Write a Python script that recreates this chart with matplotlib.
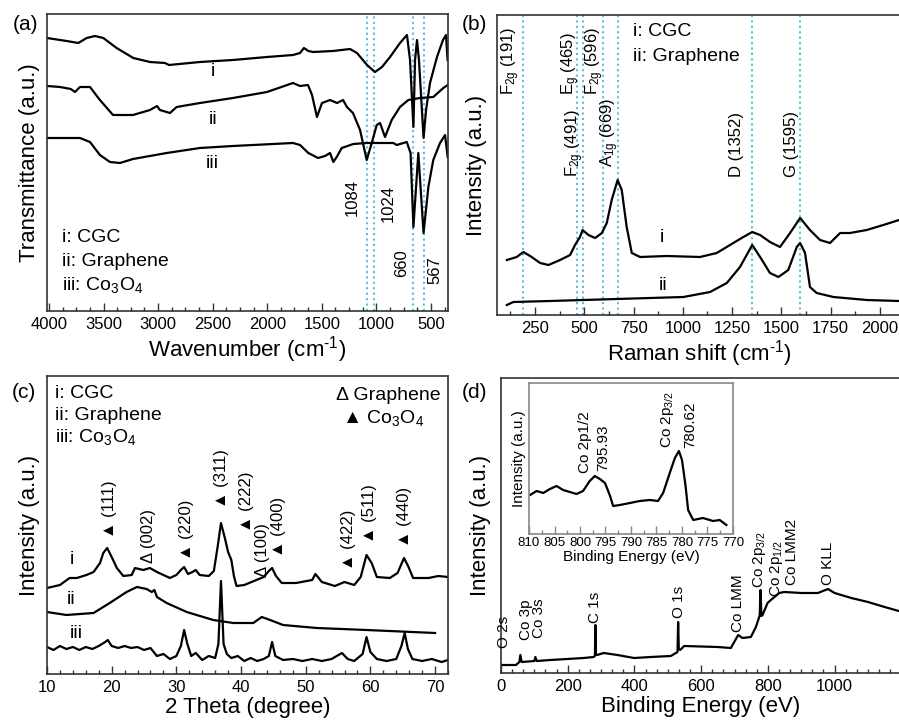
import matplotlib
matplotlib.use('Agg')
import matplotlib.pyplot as plt
from matplotlib.ticker import MultipleLocator

plt.rcParams['font.family'] = ['Liberation Sans', 'DejaVu Sans']
plt.rcParams['mathtext.fontset'] = 'custom'
plt.rcParams['mathtext.rm'] = 'Liberation Sans'
plt.rcParams['mathtext.it'] = 'Liberation Sans:italic'
plt.rcParams['mathtext.bf'] = 'Liberation Sans:bold'

# ---- (a) FTIR (wavenumber, arbitrary transmittance)
ftir_i_x = [4018, 3838, 3731, 3654, 3578, 3502, 3380, 3227, 3074, 2937, 2900, 2616, 2314, 2002, 1764,
            1699, 1663, 1623, 1580, 1397, 1241, 1177, 1085, 1012, 948, 874, 783, 719, 691, 660, 645,
            627, 609, 567, 544, 508, 444, 389, 361, 347]
ftir_i_y = [273, 270, 268, 273, 275, 273, 263, 253, 249, 248, 246, 249, 251, 254, 256,
            258, 263, 260, 259, 260, 262, 258, 246, 239, 244, 254, 268, 276, 251, 184, 251,
            271, 251, 173, 201, 228, 254, 271, 276, 251]
ftir_ii_x = [4018, 3899, 3800, 3762, 3716, 3624, 3533, 3413, 3230, 3074, 3010, 2983, 2891, 2830, 2616,
             2314, 2002, 1764, 1699, 1626, 1589, 1544, 1498, 1424, 1360, 1305, 1269, 1214, 1149, 1088,
             1042, 996, 966, 920, 859, 783, 707, 600, 478, 386, 346]
ftir_ii_y = [225, 224, 222, 219, 224, 224, 211, 196, 196, 201, 205, 201, 198, 204, 208,
             213, 219, 228, 225, 226, 216, 194, 208, 211, 208, 211, 204, 198, 181, 151,
             168, 186, 188, 174, 191, 204, 211, 213, 214, 223, 226]
ftir_iii_x = [4018, 3716, 3624, 3533, 3441, 3349, 3230, 2921, 2616, 2314, 1764, 1699, 1623, 1534, 1470,
              1424, 1394, 1363, 1317, 1211, 1088, 844, 813, 721, 686, 660, 615, 567, 523, 478,
              416, 370, 346]
ftir_iii_y = [173, 173, 169, 156, 149, 148, 152, 158, 163, 165, 168, 166, 158, 153, 155,
              158, 149, 154, 163, 167, 168, 168, 166, 169, 158, 84, 158, 78, 124, 151,
              168, 176, 154]
ftir_marks = [1084, 1024, 660, 567]

# ---- (b) Raman
raman_i_x = [107, 157, 191, 233, 276, 318, 377, 428, 453, 478, 491, 521, 555, 589, 614, 639, 669, 690,
             715, 741, 783, 918, 1087, 1172, 1256, 1307, 1352, 1392, 1442, 1493, 1544, 1595, 1645,
             1696, 1747, 1798, 1848, 1933, 2017, 2097]
raman_i_y = [55, 58, 63, 58, 52, 50, 55, 60, 70, 78, 85, 80, 77, 82, 92, 115, 135, 125,
             88, 62, 58, 59, 58, 62, 72, 78, 83, 80, 73, 68, 82, 97, 85,
             75, 72, 82, 82, 85, 90, 95]
raman_ii_x = [107, 140, 326, 665, 1003, 1138, 1223, 1290, 1352, 1392, 1442, 1485, 1535, 1578, 1595,
              1620, 1645, 1679, 1764, 1933, 2097]
raman_ii_y = [10, 13, 14, 16, 18, 23, 32, 48, 70, 58, 42, 38, 45, 68, 72,
              62, 28, 22, 18, 15, 14]
raman_marks = [191, 465, 491, 596, 669, 1352, 1595]

# ---- (c) XRD
xrd_i_x = [10, 12.0, 13.5, 14.6, 16.1, 17.2, 18.2, 18.7, 19.3, 20.0, 20.8, 21.8, 23.1, 23.6, 24.9,
           25.9, 27.0, 28.0, 29.0, 30.0, 30.7, 31.2, 31.8, 32.5, 33.0, 33.6, 35.0, 35.8, 36.4, 36.9,
           37.5, 38.0, 38.5, 38.9, 39.3, 40.5, 42.0, 43.5, 44.3, 44.8, 45.4, 46.3, 48.5, 51.0, 51.5,
           52.5, 54.5, 56.0, 57.5, 58.5, 59.4, 60.2, 61.0, 63.0, 64.2, 65.2, 65.9, 66.6, 69.0, 70.5,
           72.0]
xrd_i_y = [86, 89, 96, 96, 99, 102, 111, 121, 126, 117, 106, 98, 99, 106, 104,
           106, 102, 99, 96, 99, 104, 107, 100, 102, 104, 99, 98, 103, 128, 151,
           136, 122, 114, 98, 88, 89, 93, 97, 103, 106, 98, 91, 91, 94, 100,
           92, 88, 92, 89, 97, 119, 111, 97, 96, 101, 116, 107, 96, 96, 98,
           97]
xrd_ii_x = [10, 13.0, 17.2, 19.7, 22.3, 23.9, 25.4, 26.2, 26.6, 27.0, 28.5, 31.6, 35.7, 38.8, 41.9,
            43.2, 44.5, 46.5, 51.7, 59.4, 70.0]
xrd_ii_y = [62, 59, 61, 71, 82, 87, 85, 82, 84, 77, 71, 62, 54, 51, 51,
            57, 54, 49, 46, 44, 41]
xrd_iii_x = [10, 11, 12, 13, 14, 15, 16, 17, 18, 19, 19.4, 20, 21, 22, 23, 24, 25, 26, 27, 28,
             29, 30, 30.7, 31.2, 31.7, 32.3, 33, 34, 35, 36, 36.5, 36.9, 37.3, 37.8, 38.5, 39.5,
             40.5, 41.5, 42.5, 43.5, 44.3, 44.8, 45.3, 46.5, 48, 49.5, 51, 52.5, 54, 55.6, 56.5,
             57.5, 58.8, 59.4, 60, 61, 62.5, 64, 64.8, 65.3, 65.8, 66.5, 68, 69.5, 71, 72]
xrd_iii_y = [27, 24, 28, 25, 27, 24, 27, 25, 28, 32, 34, 28, 26, 28, 26, 27, 24, 26, 18, 20,
             15, 18, 28, 44, 30, 18, 21, 14, 18, 16, 30, 93, 30, 20, 16, 18,
             13, 16, 13, 15, 18, 32, 18, 14, 15, 13, 15, 13, 15, 21, 15,
             13, 20, 37, 22, 15, 13, 15, 28, 41, 25, 15, 13, 15, 12, 14]
xrd_peaks = [(19.6, 136, '\u25B2 (111)'), (25.7, 111, '\u0394 (002)'), (31.6, 114, '\u25B2 (220)'),
             (37.0, 166, '\u25B2 (311)'), (40.9, 142, '\u25B2 (222)'), (43.3, 97, '\u0394 (100)'),
             (45.75, 117, '\u25B2 (400)'), (56.6, 104, '\u25B2 (422)'), (59.8, 131, '\u25B2 (511)'),
             (65.3, 127, '\u25B2 (440)')]

# ---- (d) XPS survey and Co 2p inset
xps_x = [0, 45, 55, 58, 62, 100, 103, 107, 148, 248, 278, 281.5, 283, 284.5, 288, 308, 349, 399, 449,
         509, 524, 529, 531, 533, 537, 549, 649, 689, 699, 711, 724, 749, 764, 774, 775.5, 778, 780.5,
         784, 794, 799, 809, 834, 849, 900, 950, 980, 1000, 1050, 1100, 1150, 1203]
xps_y = [8, 8, 11, 18, 11, 12, 16, 12, 13, 15, 16, 17, 48, 19, 18, 20, 18, 15, 16,
         17, 20, 21, 51, 24, 23, 27, 26, 25, 31, 38, 35, 36, 46, 56, 58, 83, 57,
         58, 66, 70, 73, 80, 81, 80, 80, 84, 80, 75, 71, 66, 61]
xps_labels = [(10, 25, 'O 2s'), (75, 33, 'Co 3p'), (115, 35, 'Co 3s'), (283, 50, 'C 1s'),
              (534, 55, 'O 1s'), (709, 41, 'Co LMM'), (776, 85, 'Co 2p$_{\\mathrm{3/2}}$'),
              (827, 76, 'Co 2p$_{\\mathrm{1/2}}$'), (873, 88, 'Co LMM2'), (980, 88, 'O KLL')]
co2p_x = [809.8, 808.5, 807.2, 805.9, 804.6, 803.3, 802.0, 800.7, 799.4, 798.1, 797.1, 796.1, 795.1,
          794.1, 793.5, 792.2, 790.2, 788.3, 786.3, 784.7, 783.7, 782.4, 781.4, 780.6, 780.0, 779.3,
          778.8, 777.8, 775.9, 773.9, 772.6, 771.3]
co2p_y = [39, 43, 41, 45, 48, 44, 42, 40, 43, 53, 58, 55, 51,
          38, 28, 29, 31, 33, 34, 33, 41, 61, 76, 83, 74, 48,
          24, 14, 16, 13, 14, 9]

LINE = dict(color='black', lw=1.6)
MARK = dict(color='#5bbde0', ls=(0, (1, 1.6)), lw=1.5, zorder=0)
FRAME = '#333333'
W, H = 899, 723
INV_CM = 'cm$^{\\text{-1}}$'


def px_axes(fig, left, top, right, bottom):
    return fig.add_axes([left / W, 1 - bottom / H, (right - left) / W, (bottom - top) / H])


def style(ax, major, minor, size=12, frame=FRAME):
    ax.set_yticks([])
    ax.xaxis.set_major_locator(MultipleLocator(major))
    ax.xaxis.set_minor_locator(MultipleLocator(minor))
    ax.tick_params(axis='x', which='both', direction='in', top=False, labelsize=size,
                   pad=4, color=frame, width=1)
    ax.tick_params(axis='x', which='major', length=6)
    ax.tick_params(axis='x', which='minor', length=3)
    for s in ax.spines.values():
        s.set_color(frame)
        s.set_linewidth(1.2)


fig = plt.figure(figsize=(W / 100, H / 100), dpi=100)

# (a)
ax = px_axes(fig, 47, 14, 448, 311)
for m in ftir_marks:
    ax.axvline(m, **MARK)
ax.plot(ftir_i_x, ftir_i_y, **LINE)
ax.plot(ftir_ii_x, ftir_ii_y, **LINE)
ax.plot(ftir_iii_x, ftir_iii_y, **LINE)
ax.set_xlim(4018, 343)
ax.set_ylim(0, 297)
style(ax, 500, 125)
ax.set_xlabel('Wavenumber (' + INV_CM + ')', fontsize=16, labelpad=2)
ax.set_ylabel('Transmittance (a.u.)', fontsize=16, labelpad=5)
for x, y, s in [(2500, 239, 'i'), (2500, 191, 'ii'), (2500, 148, 'iii')]:
    ax.text(x, y, s, fontsize=14, ha='center', va='center')
for x, y, s in [(1220, 113, '1084'), (890, 108, '1024'), (767, 48, '660'), (462, 41, '567')]:
    ax.text(x, y, s, rotation=90, fontsize=12, ha='center', va='center')
for y, s in [(0.246, 'i: CGC'), (0.165, 'ii: Graphene'), (0.0875, 'iii: Co$_3$O$_4$')]:
    ax.text(0.037, y, s, transform=ax.transAxes, fontsize=14, va='center')

# (b)
ax = px_axes(fig, 497, 15, 902, 315)
for m in raman_marks:
    ax.axvline(m, **MARK)
ax.plot(raman_i_x, raman_i_y, **LINE)
ax.plot(raman_ii_x, raman_ii_y, **LINE)
ax.set_xlim(57, 2112)
ax.set_ylim(0, 300)
style(ax, 250, 125)
ax.set_xlabel('Raman shift (' + INV_CM + ')', fontsize=16, labelpad=2)
ax.set_ylabel('Intensity (a.u.)', fontsize=16, labelpad=7)
ax.text(893, 78, 'i', fontsize=14, ha='center', va='center')
ax.text(901, 30, 'ii', fontsize=14, ha='center', va='center')
for x, y, s in [(128, 220, 'F$_{\\mathrm{2g}}$ (191)'), (431, 220, 'E$_{\\mathrm{g}}$ (465)'),
                (555, 220, 'F$_{\\mathrm{2g}}$ (596)'), (453, 138, 'F$_{\\mathrm{2g}}$ (491)'),
                (627, 148, 'A$_{\\mathrm{1g}}$ (669)'), (1273, 138, 'D (1352)'),
                (1553, 138, 'G (1595)')]:
    ax.text(x, y, s, rotation=90, fontsize=12, ha='center', va='bottom')
ax.text(0.335, 0.944, 'i: CGC', transform=ax.transAxes, fontsize=14, va='center')
ax.text(0.335, 0.863, 'ii: Graphene', transform=ax.transAxes, fontsize=14, va='center')

# (c)
ax = px_axes(fig, 47, 376, 448, 674)
ax.plot(xrd_i_x, xrd_i_y, **LINE)
ax.plot(xrd_ii_x, xrd_ii_y, **LINE)
ax.plot(xrd_iii_x, xrd_iii_y, **LINE)
ax.set_xlim(10, 72)
ax.set_ylim(0, 298)
style(ax, 10, 2)
ax.set_xlabel('2 Theta (degree)', fontsize=16, labelpad=2)
ax.set_ylabel('Intensity (a.u.)', fontsize=16, labelpad=5)
for x, y, s in [(13.8, 114, 'i'), (13.8, 74, 'ii'), (14.6, 41, 'iii')]:
    ax.text(x, y, s, fontsize=14, ha='center', va='center')
for x, y, s in xrd_peaks:
    ax.text(x, y, s, rotation=90, fontsize=12, ha='center', va='bottom')
for y, s in [(0.942, 'i: CGC'), (0.869, 'ii: Graphene'), (0.796, 'iii: Co$_3$O$_4$')]:
    ax.text(0.02, y, s, transform=ax.transAxes, fontsize=14, va='center')
ax.text(0.72, 0.936, '\u0394 Graphene', transform=ax.transAxes, fontsize=14, va='center')
ax.text(0.735, 0.858, '\u25B2 Co$_3$O$_4$', transform=ax.transAxes, fontsize=14, va='center')

# (d)
ax = px_axes(fig, 501, 378, 901, 673)
ax.plot(xps_x, xps_y, **LINE)
ax.set_xlim(0, 1199)
ax.set_ylim(0, 295)
style(ax, 200, 100 / 3)
ax.set_xlabel('Binding Energy (eV)', fontsize=16, labelpad=2)
ax.set_ylabel('Intensity (a.u.)', fontsize=16, labelpad=7)
for x, y, s in xps_labels:
    ax.text(x, y, s, rotation=90, fontsize=11, ha='center', va='bottom')

ins = px_axes(fig, 529, 383, 733, 534)
ins.plot(co2p_x, co2p_y, **LINE)
ins.set_xlim(810, 770)
ins.set_ylim(0, 151)
style(ins, 5, 2.5, size=9.5, frame='#888888')
ins.tick_params(axis='x', pad=2)
ins.set_xlabel('Binding Energy (eV)', fontsize=11, labelpad=1)
ins.set_ylabel('Intensity (a.u.)', fontsize=11, labelpad=2)
for x, y, s in [(799, 61, 'Co 2p1/2'), (795.5, 63, '795.93'),
                (782.9, 86, 'Co 2p$_{\\mathrm{3/2}}$'), (778.3, 86, '780.62')]:
    ins.text(x, y, s, rotation=90, fontsize=11, ha='center', va='bottom')

for x, y, s in [(13, 25, '(a)'), (462, 25, '(b)'), (12, 393, '(c)'), (462, 393, '(d)')]:
    fig.text(x / W, 1 - y / H, s, fontsize=15, va='center')

fig.savefig('out.png', dpi=100)
